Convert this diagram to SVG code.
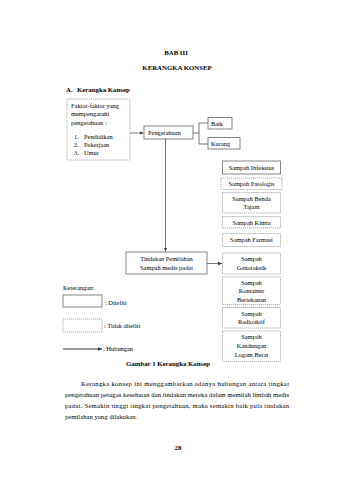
<svg xmlns="http://www.w3.org/2000/svg" width="340" height="480" viewBox="0 0 340 480">
<style>
text{font-family:"Liberation Serif","Times New Roman",serif;fill:#000;}
.t{font-size:6.8px;font-weight:bold;}
.b{font-size:6.7px;}
.l{font-size:6.4px;}
.c{text-anchor:middle;}
.solid{fill:#fff;stroke:#777;stroke-width:0.9;}
.dash{fill:#fff;stroke:#888;stroke-width:0.7;stroke-dasharray:1.2 0.8;}
.ln{fill:none;stroke:#555;stroke-width:0.8;}
</style>
<defs>
<marker id="ah" viewBox="0 0 6 6" refX="6" refY="3" markerWidth="4" markerHeight="4" orient="auto" markerUnits="userSpaceOnUse"><path d="M0,0.5 L6,3 L0,5.5 z" fill="#333"/></marker>
</defs>
<rect width="340" height="480" fill="#fff"/>
<g id="titles">
<text class="t c" x="176" y="55">BAB III</text>
<text class="t c" x="177" y="70">KERANGKA KONSEP</text>
<text class="t" x="66" y="92">A.</text>
<text class="t" x="77" y="92">Kerangka Konsep</text>
</g>
<g id="faktor">
<rect class="dash" x="67" y="99" width="63" height="61"/>
<text class="l" x="71" y="107.5">Faktor-faktor yang</text>
<text class="l" x="71" y="116">mempengaruhi</text>
<text class="l" x="71" y="125">pengetahuan :</text>
<text class="l" x="74" y="139">1.</text><text class="l" x="84" y="139">Pendidikan</text>
<text class="l" x="74" y="147">2.</text><text class="l" x="84" y="147">Pekerjaan</text>
<text class="l" x="74" y="154.5">3.</text><text class="l" x="84" y="154.5">Umur</text>
</g>
<g id="pengetahuan">
<rect class="solid" x="144" y="126" width="49" height="13"/>
<text class="l" x="148" y="134.8">Pengetahuan</text>
</g>
<g id="baik">
<rect class="solid" x="208" y="117.5" width="24" height="11.5"/>
<text class="l" x="211" y="125.6">Baik</text>
</g>
<g id="kurang">
<rect class="solid" x="208" y="137.5" width="32" height="11.5"/>
<text class="l" x="211" y="145.6">Kurang</text>
</g>
<g id="infeksius">
<rect class="solid" x="222.5" y="161" width="58" height="13" stroke-width="1.1"/>
<text class="l c" x="251.5" y="169.8">Sampah Infeksius</text>
</g>
<g id="patologis">
<rect class="dash" x="221" y="178" width="61" height="11.5"/>
<text class="l c" x="251.5" y="186.2">Sampah Patologis</text>
</g>
<g id="benda-tajam">
<rect class="dash" x="222.5" y="192.5" width="58" height="20.5"/>
<text class="l c" x="251.5" y="200.8">Sampah Benda</text>
<text class="l c" x="251.5" y="208.8">Tajam</text>
</g>
<g id="kimia">
<rect class="dash" x="222.5" y="216.5" width="58" height="11.5"/>
<text class="l c" x="251.5" y="224.6">Sampah Kimia</text>
</g>
<g id="farmasi">
<rect class="dash" x="222.5" y="233.5" width="58" height="13"/>
<text class="l c" x="251.5" y="242.2">Sampah Farmasi</text>
</g>
<g id="tindakan">
<rect class="solid" x="126" y="252" width="81" height="22"/>
<text class="l c" x="166.5" y="260.8">Tindakan Pemilahan</text>
<text class="l c" x="166.5" y="269.6">Sampah medis padat</text>
</g>
<g id="genotoksik">
<rect class="dash" x="222.5" y="253" width="58" height="21"/>
<text class="l c" x="251.5" y="261.3">Sampah</text>
<text class="l c" x="251.5" y="270.2">Genotoksik</text>
</g>
<g id="kontainer">
<rect class="dash" x="222.5" y="277" width="58" height="27.5"/>
<text class="l c" x="251.5" y="284.8">Sampah</text>
<text class="l c" x="251.5" y="293.3">Kontainer</text>
<text class="l c" x="251.5" y="301.8">Bertekanan</text>
</g>
<g id="radioaktif">
<rect class="dash" x="222.5" y="307.5" width="58" height="20.5"/>
<text class="l c" x="251.5" y="315.8">Sampah</text>
<text class="l c" x="251.5" y="324.3">Radioaktif</text>
</g>
<g id="logam-berat">
<rect class="dash" x="222.5" y="331" width="58" height="30.5"/>
<text class="l c" x="251.5" y="339.3">Sampah</text>
<text class="l c" x="251.5" y="348.3">Kandungan</text>
<text class="l c" x="251.5" y="357.3">Logam Berat</text>
</g>
<g id="connectors">
<line class="ln" x1="130" y1="133" x2="143.5" y2="133" marker-end="url(#ah)"/>
<path class="ln" d="M193,133 H199 M199,123 V144 M199,123 H208 M199,144 H208"/>
<line class="ln" x1="165.5" y1="139" x2="165.5" y2="251.5" marker-end="url(#ah)"/>
<line class="ln" x1="207" y1="263.5" x2="222" y2="263.5" marker-end="url(#ah)"/>
</g>
<g id="legend">
<text class="l" x="63" y="290">Keterangan:</text>
<rect class="solid" x="63" y="295" width="39" height="12"/>
<text class="l" x="105" y="304.5">: Diteliti</text>
<rect class="dash" x="63" y="319" width="39" height="13"/>
<text class="l" x="104" y="327.5">: Tidak diteliti</text>
<line x1="63" y1="349" x2="102" y2="349" stroke="#222" stroke-width="0.9" marker-end="url(#ah)"/>
<text class="l" x="103" y="351">: Hubungan</text>
</g>
<g id="caption">
<text class="t c" x="168" y="366" font-size="6.4">Gambar 1 Kerangka Konsep</text>
</g>
<g id="paragraph">
<text class="b" x="81" y="386" textLength="208" lengthAdjust="spacing">Kerangka konsep ini menggambarkan adanya hubungan antara tingkat</text>
<text class="b" x="65" y="397" textLength="224" lengthAdjust="spacing">pengetahuan petugas kesehatan dan tindakan mereka dalam memilah limbah medis</text>
<text class="b" x="65" y="408" textLength="224" lengthAdjust="spacing">padat. Semakin tinggi tingkat pengetahuan, maka semakin baik pula tindakan</text>
<text class="b" x="65" y="419">pemilahan yang dilakukan.</text>
<text class="t c" x="178" y="450">28</text>
</g>
</svg>
